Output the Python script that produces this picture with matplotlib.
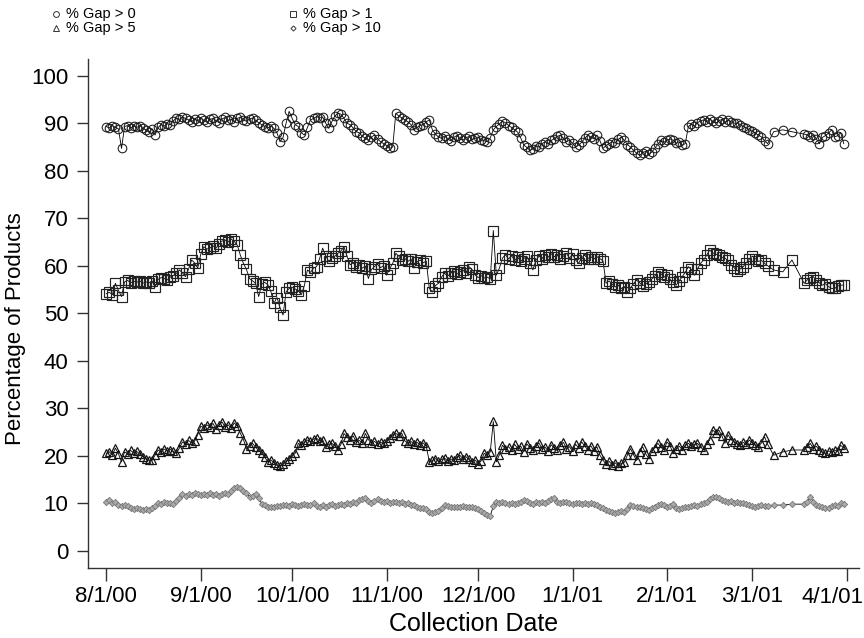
import matplotlib
matplotlib.use("Agg")
import matplotlib.pyplot as plt
from matplotlib.lines import Line2D
from matplotlib.transforms import offset_copy
import datetime as dt

plt.rcParams['font.family'] = ['Liberation Sans', 'DejaVu Sans']

# ---- data ----
start_date = dt.date(2000, 8, 1)
day_offsets = list(range(0, 218)) + [219, 222, 225] + list(range(229, 243))

gap0 = [89.3, 89.0, 89.5, 89.1, 88.8, 84.7,
        89.3, 89.5, 89.0, 89.4, 89.1, 89.5,
        88.9, 88.6, 88.1, 88.8, 87.5,
        89.1, 89.7, 89.4, 89.9, 89.7,
        90.5, 91.1, 90.8, 91.3, 91.0, 90.7,
        90.3, 90.9, 90.5, 91.1, 90.6, 90.2, 90.8, 91.0, 90.5, 90.1, 90.9, 91.2, 90.6, 90.8, 90.3, 91.0, 91.3, 90.7, 90.4, 90.9, 91.1, 90.6,
        90.1, 89.7, 89.3, 89.0, 89.4, 88.9,
        88.0, 86.1, 87.0, 90.0, 92.5,
        91.0, 89.7, 89.3, 88.0, 87.5, 89.1, 90.7, 91.0, 91.4, 91.1,
        91.3, 90.0, 88.9, 90.3, 91.5, 92.1, 91.9, 91.0, 90.0, 89.7,
        89.0, 88.2, 88.0, 87.3, 86.8, 86.4, 87.1, 87.5, 86.7, 86.1,
        85.7, 85.3, 84.7, 85.0, 92.1, 91.5, 91.1, 90.7, 90.3, 89.7,
        88.6, 89.1, 89.5, 89.7, 90.3, 90.7, 88.6, 87.7, 87.1, 86.8,
        87.3, 86.7, 86.3, 87.0, 87.4, 86.8, 86.4, 86.9, 87.2, 86.6,
        86.8, 87.1, 86.5, 86.3, 86.1, 86.9, 88.6, 89.3, 89.9, 90.4,
        90.1, 89.5, 89.1, 88.6, 88.1, 86.9, 85.4, 84.9, 84.3, 84.6,
        85.3, 85.0, 85.7, 86.1, 85.6, 86.4, 86.7, 87.2, 87.5, 86.8,
        86.1, 86.4, 85.8, 85.0, 85.4, 86.0, 86.8, 87.5, 87.1, 86.7,
        87.5, 86.3, 84.7, 85.3, 85.7, 86.1, 85.8, 86.6, 87.1, 86.4,
        85.5, 85.0, 84.3, 83.7, 83.2, 83.8, 84.1, 83.6, 83.9, 84.7,
        85.6, 86.4, 86.0, 86.4, 86.7, 86.4, 85.8, 86.1, 85.4, 85.7,
        89.3, 89.8, 89.4, 90.1, 90.5, 90.7, 90.3, 90.9, 90.4, 90.0,
        90.5, 90.8, 90.2, 90.6, 90.3, 90.0, 90.0, 89.7, 89.3, 89.0,
        88.6, 88.3, 87.9, 87.5, 87.1, 86.3, 85.7,
        88.2, 88.6, 88.2,
        87.7, 87.5, 87.1, 87.6, 86.7, 85.7, 87.0, 87.4, 87.9, 88.6, 87.1, 87.4, 88.0, 85.7]

gap1 = [54.1, 54.4, 53.9, 56.3, 54.8, 53.5,
        56.6, 56.9, 56.4, 56.7, 56.5, 56.8, 56.3, 56.6, 56.4,
        56.8, 55.5,
        57.1, 57.5, 57.3, 57.0, 57.6,
        57.9, 58.4, 59.1, 58.5, 57.7, 59.3, 61.2, 60.6, 59.5,
        62.4, 64.0, 63.5, 63.7, 64.2, 63.7, 64.5, 65.2, 65.4, 65.0,
        65.6, 65.1, 64.3, 62.2, 60.5, 59.2, 57.3, 56.8, 56.3, 53.5,
        56.1, 56.5, 56.0, 54.6, 52.1, 53.3, 51.2, 49.6, 54.5, 55.2,
        55.5, 55.1, 54.7, 53.9, 55.8, 59.1, 58.6, 59.5, 59.8, 61.5,
        63.7, 62.1, 60.9, 61.6, 62.0, 62.6, 63.1, 64.0, 62.0, 60.2,
        60.6, 59.8, 60.2, 59.5, 59.9, 57.3, 59.2, 59.8, 60.3, 59.6,
        60.0, 58.0, 59.4, 60.5, 62.6, 62.0, 61.2, 61.5, 60.9, 61.4,
        59.5, 60.8, 61.2, 60.6, 61.0, 55.2, 54.5, 55.8, 56.3, 57.6,
        58.4, 57.8, 58.4, 58.9, 58.2, 58.7, 59.1, 58.5, 59.8, 59.2,
        58.1, 57.5, 57.9, 57.4, 57.6, 57.2, 67.4, 58.0, 59.5, 61.6,
        62.3, 61.4, 62.1, 61.1, 61.8, 60.9, 61.5, 62.0, 60.6, 59.1,
        61.2, 62.0, 61.5, 62.3, 61.8, 62.5, 61.9, 62.2, 61.4, 62.0,
        62.6, 61.6, 62.4, 61.2, 60.5, 61.7, 62.2, 61.5, 61.9, 61.4,
        61.9, 61.5, 61.0, 56.3, 56.8, 56.1, 55.5, 55.9, 55.2, 55.6,
        54.5, 55.3, 56.2, 57.0, 56.4, 55.8, 56.1, 56.6, 57.2, 57.8,
        58.7, 58.3, 57.6, 58.0, 57.1, 56.5, 55.9, 56.8, 57.7, 58.6,
        59.8, 59.2, 58.0, 59.3, 60.5, 61.2, 62.2, 63.3, 62.7, 62.4,
        62.2, 61.8, 61.6, 61.1, 60.2, 59.6, 58.9, 59.3, 59.8, 60.6,
        61.4, 62.0, 61.5, 60.9, 61.1, 60.5, 60.0,
        59.1, 58.7, 61.2,
        56.3, 57.0, 57.5, 57.7, 56.9, 56.4, 55.9, 56.2, 55.6, 55.2, 55.2, 55.7, 55.9, 55.9]

gap5 = [20.5, 20.8, 20.2, 21.6, 20.4, 18.7,
        20.8, 20.4, 21.1, 20.6, 20.9,
        20.3, 19.8, 19.4, 19.1, 19.0, 20.1,
        21.2, 20.8, 21.4, 21.0, 21.3, 20.9, 20.5, 21.6,
        22.9, 22.4, 23.2, 22.7, 23.1, 24.4, 26.2,
        25.9, 26.5, 26.1, 26.8, 25.7, 26.4, 27.1, 26.0, 26.5, 25.8, 26.9, 26.2,
        24.7, 23.4, 21.5, 22.1, 22.6, 21.8, 21.1,
        20.5, 19.7, 18.7, 19.1, 18.5, 18.0, 17.8, 18.3, 18.8, 19.4,
        20.0, 20.5, 22.6, 22.2, 22.8, 23.3, 23.0, 23.5, 23.7, 23.1,
        23.4, 21.9, 22.4, 22.6, 22.1, 21.2, 22.4, 24.7, 23.9, 23.3,
        24.2, 22.9, 23.2, 22.7, 24.7, 23.4, 22.6, 23.0, 22.5, 22.8,
        22.6, 23.1, 23.8, 24.4, 24.7, 24.2, 24.7, 23.1, 22.6, 23.0,
        22.4, 22.8, 22.3, 22.7, 22.0, 18.7, 19.0, 19.4, 18.8, 19.2,
        19.5, 18.9, 19.3, 19.1, 19.7, 20.1, 19.4, 19.8, 19.2, 18.7,
        19.1, 18.3, 18.9, 20.5, 20.1, 20.8, 27.2, 18.7, 20.2, 22.2, 21.4,
        21.9, 21.1, 22.4, 21.5, 22.0, 20.8, 22.5, 21.7, 21.2, 22.1,
        22.7, 21.4, 21.8, 21.0, 22.3, 21.6, 21.1, 22.2, 22.8, 21.5,
        21.9, 20.9, 22.4, 21.7, 22.9, 22.0, 21.3, 22.1, 21.0,
        21.9, 20.1, 19.0,
        18.3, 18.8, 18.1, 18.5, 17.9, 18.4, 18.6,
        20.1, 21.5, 20.2, 19.0, 20.8, 21.9, 20.4, 19.4, 20.9, 21.7,
        22.6, 21.8, 21.2, 22.9, 22.1, 20.5, 21.4, 22.0, 21.3, 22.2,
        22.6, 22.0, 22.4, 22.6, 21.8, 21.2, 22.5, 23.3, 25.4, 24.8,
        25.4, 24.2, 22.6, 24.4, 23.4, 22.9, 22.5, 22.2, 22.8, 22.4,
        23.3, 22.7, 22.2, 21.9, 22.7, 24.0, 22.4,
        20.1, 20.8, 21.2,
        21.2, 21.8, 22.6, 21.5, 22.0, 21.1, 20.7, 20.5, 21.0, 20.8, 21.2, 20.9, 22.2, 21.6]

gap10 = [10.3, 10.6, 10.0, 10.2, 9.6, 9.4, 9.7, 9.4, 9.0, 8.7,
         8.9, 8.7, 8.5, 8.8, 8.6, 9.0, 9.4, 10.1, 9.9, 10.2,
         10.0, 10.1, 9.9, 10.4, 11.0, 11.9, 11.6, 12.0, 11.8, 12.1,
         11.9, 11.7, 12.0, 11.8, 12.2, 11.7, 11.9, 11.6, 12.0, 12.2,
         12.0, 12.5, 13.2, 13.5, 13.1, 12.6, 12.1, 11.4, 11.6, 11.9,
         11.1, 9.9, 9.6, 9.3, 9.1, 9.3, 9.5, 9.4, 9.6, 9.7,
         9.5, 9.8, 9.6, 9.4, 9.7, 9.9, 9.6, 9.7, 10.0, 9.5,
         9.2, 9.6, 9.3, 9.7, 9.8, 9.5, 9.6, 9.8, 9.6, 10.0,
         9.8, 10.3, 10.1, 10.6, 10.8, 11.0, 10.4, 10.0, 10.4, 10.8,
         10.5, 10.2, 10.4, 10.1, 10.3, 10.3, 10.0, 10.2, 9.9, 10.1,
         9.7, 9.6, 9.3, 9.0, 8.9, 8.7, 8.2, 8.0, 8.1, 8.4,
         9.0, 9.6, 9.4, 9.2, 9.3, 9.1, 9.2, 9.4, 9.3, 9.2,
         9.1, 8.9, 8.8, 8.4, 7.9, 7.6, 7.3, 9.4, 10.3, 10.1,
         10.3, 10.0, 9.9, 10.1, 9.8, 10.0, 10.2, 10.7, 10.4, 10.1,
         9.9, 10.2, 10.0, 10.3, 10.1, 10.5, 10.8, 11.0, 10.3, 10.0,
         10.2, 10.3, 10.1, 9.9, 10.1, 10.0, 9.8, 10.1, 9.9, 10.0,
         9.9, 9.6, 9.2, 8.9, 8.6, 8.3, 8.1, 8.0, 8.2, 8.4,
         8.1, 8.8, 9.6, 9.4, 9.1, 9.2, 9.0, 8.7, 8.6, 8.9,
         9.3, 9.6, 9.9, 9.6, 9.2, 9.5, 9.9, 8.9, 8.8, 9.0,
         9.2, 9.1, 9.4, 9.6, 9.5, 9.8, 10.0, 10.3, 10.8, 11.2,
         11.4, 11.0, 10.7, 10.5, 10.3, 10.4, 10.1, 10.2, 10.0, 10.1,
         9.9, 9.6, 9.4, 9.2, 9.5, 9.6, 9.4, 9.5,
         9.6, 9.6, 9.8,
         9.8, 10.2, 11.4, 10.3, 9.6, 9.4, 9.1, 8.9, 9.0, 9.4, 9.6, 9.5, 10.0, 9.9]

tick_dates = [dt.date(2000, 8, 1), dt.date(2000, 9, 1), dt.date(2000, 10, 1),
              dt.date(2000, 11, 1), dt.date(2000, 12, 1), dt.date(2001, 1, 1),
              dt.date(2001, 2, 1), dt.date(2001, 3, 1), dt.date(2001, 4, 1)]
tick_labels = ["8/1/00", "9/1/00", "10/1/00", "11/1/00", "12/1/00",
               "1/1/01", "2/1/01", "3/1/01", "4/1/01"]
y_ticks = [0, 10, 20, 30, 40, 50, 60, 70, 80, 90, 100]
series_labels = ["% Gap > 0", "% Gap > 1", "% Gap > 5", "% Gap > 10"]

dates = [start_date + dt.timedelta(days=d) for d in day_offsets]

# ---- figure ----
W, H = 864, 638
fig = plt.figure(figsize=(W / 100, H / 100), dpi=100)
ax_left, ax_right, ax_bottom, ax_top = 88, 859, 567.7, 58.6
ax = fig.add_axes([ax_left / W, 1 - ax_bottom / H,
                   (ax_right - ax_left) / W, (ax_bottom - ax_top) / H])

line_kw = dict(color='black', lw=0.6)
ax.plot(dates, gap0, marker='o', ms=6.2, mfc='none', mec='#1a1a1a', mew=0.75, **line_kw)
ax.plot(dates, gap1, marker='s', ms=6.6, mfc='none', mec='#222222', mew=0.85, **line_kw)
ax.plot(dates, gap5, marker='^', ms=6.0, mfc='none', mec='#151515', mew=0.9, **line_kw)
ax.plot(dates, gap10, marker='D', ms=3.2, mfc='#aaaaaa', mec='#777777', mew=0.6, **line_kw)

ax.set_xlim(start_date - dt.timedelta(days=6), start_date + dt.timedelta(days=247))
ax.set_ylim(-3.58, 103.6)
ax.set_xticks(tick_dates)
ax.set_xticklabels(tick_labels[:-1] + [""])
ax.set_yticks(y_ticks)
ax.set_yticklabels([str(v) for v in y_ticks])

# last date label shifted left so it stays inside the picture
last_tr = offset_copy(ax.get_xaxis_transform(), fig=fig, x=-14, y=-19.5, units='dots')
ax.text(tick_dates[-1], 0, tick_labels[-1], transform=last_tr,
        ha='center', va='top', fontsize=16)

for s in ['top', 'right']:
    ax.spines[s].set_visible(False)
for s in ['left', 'bottom']:
    ax.spines[s].set_color('#333333')
    ax.spines[s].set_linewidth(1.0)

ax.tick_params(axis='y', direction='out', length=8, width=1, color='#333333',
               labelsize=16, pad=6)
ax.tick_params(axis='x', direction='out', length=9, width=1, color='#333333',
               labelsize=16, pad=4)

ax.set_xlabel("Collection Date", fontsize=18, labelpad=4)
ax.set_ylabel("Percentage of Products", fontsize=16)
ax.yaxis.set_label_coords((26 - ax_left) / (ax_right - ax_left), 0.47)

# ---- legend at top ----
leg_items = [(56, 14, 'o', series_labels[0]),
             (293, 14, 's', series_labels[1]),
             (56, 28, '^', series_labels[2]),
             (293, 28, 'D', series_labels[3])]
for x, y, m, lab in leg_items:
    ms = 2.6 if m == 'D' else 4.2
    fig.add_artist(Line2D([x / W], [1 - y / H], marker=m, ms=ms, mfc='none',
                          mec='#333333', mew=0.7, transform=fig.transFigure))
    fig.text((x + 10) / W, 1 - y / H, lab, fontsize=10.5, va='center', ha='left')

fig.savefig("out.png", dpi=100)
